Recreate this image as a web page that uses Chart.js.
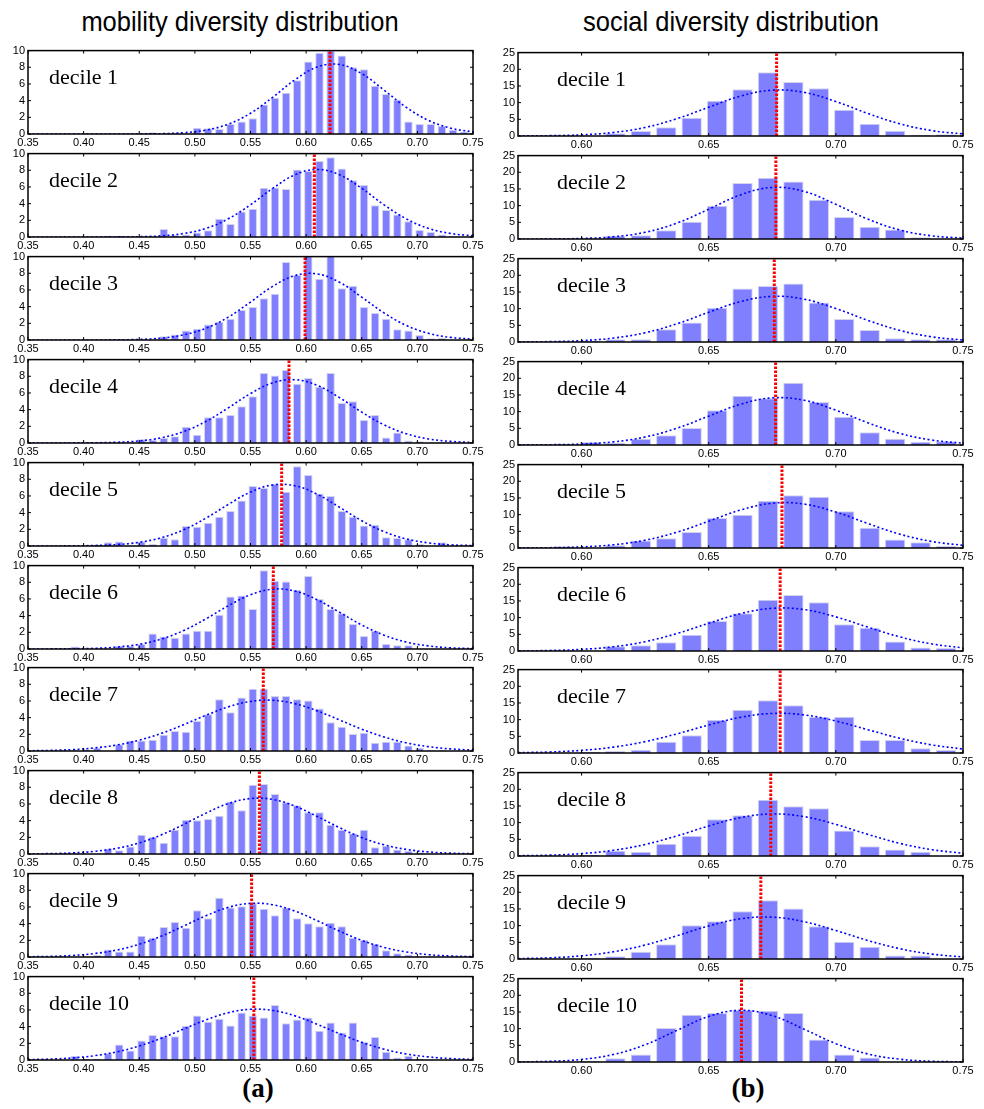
<!DOCTYPE html>
<html>
<head>
<meta charset="utf-8">
<script src="https://cdn.jsdelivr.net/npm/chart.js@4.4.1/dist/chart.umd.min.js"></script>
<style>
  body { margin: 0; background: #fff; width: 984px; height: 1109px; position: relative; overflow: hidden; }
  canvas { position: absolute; }
  .title { position: absolute; top: 8px; width: 490px; text-align: center; font-family: "Liberation Sans", Arial, sans-serif; font-size: 28px; line-height: 28px; color: #000; transform: scaleX(0.91); white-space: nowrap; }
  .sub { position: absolute; top: 1075px; width: 100px; text-align: center; font-family: "Liberation Serif", "Times New Roman", serif; font-weight: bold; font-size: 27px; line-height: 26px; color: #000; }
</style>
</head>
<body>
<div class="title" style="left:-5px">mobility diversity distribution</div>
<div class="title" style="left:486px">social diversity distribution</div>
<div class="sub" style="left:208px">(a)</div>
<div class="sub" style="left:698px">(b)</div>
<script>
// panel labels
const deciles = ["decile 1", "decile 2", "decile 3", "decile 4", "decile 5",
                 "decile 6", "decile 7", "decile 8", "decile 9", "decile 10"];

// tick labels
const mobTicks = [0.35, 0.40, 0.45, 0.50, 0.55, 0.60, 0.65, 0.70, 0.75];
const socTicks = [0.60, 0.65, 0.70, 0.75];

// bin centres
const mobBins = [0.352, 0.362, 0.372, 0.382, 0.392, 0.402, 0.412, 0.422, 0.432, 0.442,
                 0.452, 0.462, 0.472, 0.482, 0.492, 0.502, 0.512, 0.522, 0.532, 0.542,
                 0.552, 0.562, 0.572, 0.582, 0.592, 0.602, 0.612, 0.622, 0.632, 0.642,
                 0.652, 0.662, 0.672, 0.682, 0.692, 0.702, 0.712, 0.722, 0.732, 0.742];
const socBins = [0.5833, 0.5933, 0.6033, 0.6133, 0.6233, 0.6333, 0.6433, 0.6533, 0.6633,
                 0.6733, 0.6833, 0.6933, 0.7033, 0.7133, 0.7233, 0.7333, 0.7433];

// histogram heights, one row per decile
const mobCounts = [
  [0,0,0,0,0,0,0,0,0,0,0,0.2,0,0,0,0.75,0.7,0.6,1.2,1.5,1.9,3.55,4.35,4.95,6.45,8.7,9.75,10,9.4,8.0,7.75,5.8,4.8,4.15,1.5,1.2,1.2,0.95,0.5,0.3],
  [0,0,0,0,0,0,0,0.15,0.15,0,0,0,0.95,0.25,0.3,0.55,0.8,2.2,1.55,3.05,3.4,5.9,5.95,5.75,8.1,7.9,9.1,9.55,8.2,6.8,6.25,3.8,3.25,2.7,1.9,0.85,0.6,0.3,0.1,0],
  [0,0,0,0,0,0,0,0,0,0,0,0,0.45,0.65,1.15,1.35,1.85,2.2,2.55,3.6,3.95,5.0,5.55,9.35,7.8,10.6,7.35,10.5,6.2,6.5,3.95,3.25,2.55,1.3,1.15,0.6,0.2,0.25,0,0],
  [0,0,0,0,0,0,0,0,0,0,0.45,0.4,0.6,0.8,1.95,1.0,3.1,3.1,3.35,4.4,5.6,8.4,8.1,8.75,7.1,7.8,6.75,8.4,4.8,5.0,2.75,3.35,0.65,1.25,0.3,0.2,0.05,0.1,0,0],
  [0,0,0,0,0,0,0.15,0.45,0.55,0,0.55,0.25,1.0,0.8,2.4,2.3,2.8,3.5,4.2,5.45,7.2,6.95,7.45,6.5,9.55,8.5,6.3,6.0,4.2,3.5,2.45,2.55,1.05,0.95,0.8,0.25,0,0.45,0,0],
  [0,0,0,0,0.3,0,0,0,0.4,0.4,0.6,1.85,1.5,1.35,1.85,2.2,2.2,4.1,6.3,6.4,4.8,9.45,8.15,8.1,7.1,8.75,6.0,4.8,4.3,3.0,1.55,2.2,0.6,0.45,0.45,0,0,0,0,0],
  [0,0,0,0.1,0.1,0.2,0.35,0,0.8,1.25,1.25,1.35,1.95,2.4,2.3,3.6,4.4,6.2,4.65,6.4,7.45,7.45,6.6,6.6,6.2,6.05,5.1,3.45,2.9,2.05,2.2,1.0,1.1,1.1,0.65,0.4,0.1,0.1,0,0],
  [0,0,0,0.1,0.1,0,0,0.65,0.45,0.9,2.3,2.05,1.35,2.9,4.1,4.05,4.2,4.6,6.3,5.25,8.3,8.4,7.2,6.2,5.85,5.0,5.0,3.5,2.9,2.5,2.9,0.8,1.0,0.55,0.4,0.2,0,0,0,0],
  [0,0,0,0,0,0,0.25,0.9,0.65,0.65,2.55,2.3,3.6,4.2,3.5,5.6,4.65,7.1,5.95,6.1,6.45,5.8,5.0,5.95,4.65,4.05,3.7,4.1,3.7,2.3,2.05,1.6,0.8,0.45,0.3,0,0,0,0,0],
  [0,0,0,0,0.5,0.15,0.15,0.8,1.85,1.15,2.35,3.0,2.85,2.85,4.1,5.35,4.6,4.95,4.15,5.7,5.35,5.1,6.6,4.4,4.85,5.1,3.5,4.5,3.3,4.5,2.15,2.75,1.0,0.3,0.5,0.15,0.05,0,0,0]
];
const socCounts = [
  [0,0,0.1,0.8,1.5,2.6,5.5,10.6,14.0,19.1,16.2,14.3,7.9,3.7,1.6,0.3,0.5],
  [0,0,0.2,1.0,1.1,2.65,5.2,10.0,16.8,18.35,17.2,11.8,6.6,3.7,2.85,0.5,0],
  [0,0.2,0.4,0.8,0.8,3.8,5.85,10.3,16.05,16.75,17.5,11.85,6.9,3.6,1.15,0.8,0.8],
  [0,0.2,0.9,0.7,1.85,2.95,5.1,10.45,14.75,14.0,18.65,12.9,8.5,3.8,1.85,1.0,1.15],
  [0,0.5,0.1,0.8,2.25,2.95,4.8,9.0,9.95,14.15,15.8,15.35,11.05,6.05,2.55,1.75,0.6],
  [0.1,0.1,0,1.45,1.75,2.65,4.9,9.0,11.35,15.35,16.8,14.65,8.0,6.95,2.85,1.05,0.9],
  [0,0,0.3,0.6,1.0,3.4,5.35,9.95,13.0,15.8,14.35,10.85,10.85,3.9,3.9,1.45,0.9],
  [0,0,0.4,1.55,1.25,3.7,6.1,11.0,12.25,16.85,14.9,14.3,7.65,2.95,1.95,1.25,0],
  [0,0.1,0.3,0.8,2.15,4.4,10.15,11.3,14.35,17.6,15.15,9.85,5.2,3.7,1.05,1.05,0],
  [0,0,0.3,1.15,2.25,10.2,14.2,14.7,15.6,15.4,14.7,6.75,2.25,1.35,0,0,0]
];

// dotted fit curves
const mobFitX = [0.35, 0.37, 0.39, 0.41, 0.43, 0.45, 0.47, 0.49, 0.51, 0.53, 0.55,
                 0.57, 0.59, 0.61, 0.63, 0.65, 0.67, 0.69, 0.71, 0.73, 0.75];
const mobFit = [
  [0,0,0,0,0,0.01,0.04,0.16,0.47,1.18,2.49,4.40,6.50,8.04,8.33,7.23,5.26,3.20,1.63,0.70,0.25],
  [0,0,0,0,0.01,0.04,0.14,0.42,1.03,2.18,3.86,5.83,7.46,8.10,7.46,5.83,3.86,2.18,1.03,0.42,0.14],
  [0,0,0,0,0.02,0.07,0.23,0.62,1.41,2.74,4.55,6.43,7.73,7.92,6.92,5.13,3.25,1.75,0.80,0.31,0.10],
  [0,0,0.01,0.03,0.09,0.25,0.63,1.38,2.59,4.21,5.93,7.21,7.59,6.91,5.44,3.70,2.18,1.11,0.49,0.19,0.06],
  [0,0,0.02,0.06,0.17,0.44,1.00,1.95,3.34,4.98,6.47,7.32,7.22,6.20,4.65,3.03,1.72,0.85,0.37,0.14,0.05],
  [0,0.01,0.03,0.08,0.23,0.56,1.20,2.22,3.62,5.18,6.50,7.17,6.94,5.90,4.40,2.88,1.66,0.83,0.37,0.14,0.05],
  [0.03,0.07,0.17,0.37,0.72,1.30,2.12,3.16,4.28,5.29,5.94,6.08,5.67,4.81,3.72,2.62,1.68,0.98,0.52,0.25,0.11],
  [0.02,0.05,0.13,0.32,0.69,1.33,2.30,3.55,4.90,6.04,6.65,6.54,5.74,4.50,3.16,1.97,1.10,0.55,0.25,0.10,0.03],
  [0.03,0.07,0.18,0.42,0.84,1.53,2.51,3.72,4.95,5.95,6.43,6.26,5.50,4.35,3.10,1.99,1.15,0.60,0.28,0.12,0.05],
  [0.05,0.11,0.25,0.52,0.98,1.68,2.62,3.72,4.81,5.67,6.08,5.94,5.29,4.28,3.16,2.12,1.30,0.72,0.37,0.17,0.07]
];
const socFitX = [0.575, 0.5875, 0.60, 0.6125, 0.625, 0.6375, 0.65, 0.6625,
                 0.675, 0.6875, 0.70, 0.7125, 0.725, 0.7375, 0.75];
const socFit = [
  [0.02,0.10,0.36,1.05,2.56,5.18,8.63,11.95,13.73,13.07,10.34,6.77,3.69,1.65,0.62],
  [0.01,0.04,0.17,0.67,2.01,4.76,8.93,13.22,15.45,14.26,10.39,5.98,2.72,0.97,0.27],
  [0.03,0.12,0.41,1.18,2.78,5.46,8.91,12.11,13.67,12.84,10.03,6.51,3.51,1.58,0.59],
  [0.02,0.08,0.30,0.94,2.40,5.03,8.65,12.20,14.12,13.41,10.45,6.68,3.51,1.51,0.53],
  [0.02,0.09,0.33,0.96,2.34,4.75,8.04,11.38,13.41,13.17,10.77,7.36,4.18,1.98,0.78],
  [0.04,0.16,0.49,1.27,2.80,5.24,8.31,11.19,12.79,12.42,10.24,7.17,4.26,2.15,0.92],
  [0.11,0.31,0.79,1.76,3.41,5.73,8.39,10.69,11.85,11.42,9.59,7.00,4.45,2.46,1.18],
  [0.08,0.26,0.71,1.70,3.46,6.02,9.00,11.51,12.59,11.80,9.46,6.50,3.82,1.92,0.83],
  [0.12,0.36,0.95,2.17,4.19,6.96,9.91,12.05,12.54,11.18,8.53,5.57,3.11,1.49,0.61],
  [0.04,0.21,0.77,2.25,5.19,9.48,13.64,15.50,13.90,9.84,5.50,2.43,0.85,0.23,0.05]
];

// red dotted mean markers
const mobMean = [0.6215, 0.6074, 0.599, 0.5846, 0.578, 0.5705, 0.5615, 0.558, 0.551, 0.553];
const socMean = [0.6767, 0.6764, 0.6758, 0.6763, 0.6788, 0.6781, 0.6781, 0.6744, 0.6705, 0.6629];

const tickFont = { family: "'Liberation Sans Narrow', 'Liberation Sans', Arial, sans-serif", size: 11 };

// frame, inward tick marks and the decile label
function framePlugin(label, labelDx) {
    return {
        id: "frame",
        afterDraw(chart) {
            const ctx = chart.ctx;
            const a = chart.chartArea;
            ctx.save();
            ctx.strokeStyle = "#000";
            ctx.lineWidth = 1.5;
            ctx.strokeRect(a.left, a.top, a.right - a.left, a.bottom - a.top);
            ctx.lineWidth = 1;
            ctx.beginPath();
            chart.scales.x.ticks.forEach(t => {
                const px = chart.scales.x.getPixelForValue(t.value);
                ctx.moveTo(px, a.bottom); ctx.lineTo(px, a.bottom - 3);
                ctx.moveTo(px, a.top); ctx.lineTo(px, a.top + 3);
            });
            chart.scales.y.ticks.forEach(t => {
                const py = chart.scales.y.getPixelForValue(t.value);
                ctx.moveTo(a.left, py); ctx.lineTo(a.left + 3, py);
                ctx.moveTo(a.right, py); ctx.lineTo(a.right - 3, py);
            });
            ctx.stroke();
            ctx.fillStyle = "#000";
            ctx.font = "22px 'Liberation Serif', 'Times New Roman', serif";
            ctx.textBaseline = "alphabetic";
            ctx.fillText(label, a.left + labelDx, a.top + 33);
            ctx.restore();
        }
    };
}

function drawPanel(p) {
    const canvas = document.createElement("canvas");
    canvas.width = p.width;
    canvas.height = 109;
    canvas.style.left = p.left + "px";
    canvas.style.top = (p.top - 8) + "px";
    document.body.appendChild(canvas);

    new Chart(canvas, {
        type: "bar",
        data: {
            datasets: [
                {
                    type: "line",
                    data: [{ x: p.mean, y: 0 }, { x: p.mean, y: p.yMax }],
                    borderColor: "#ff0000",
                    borderWidth: 3,
                    borderDash: [2.5, 1.5],
                    pointRadius: 0,
                    order: 1
                },
                {
                    type: "line",
                    data: p.fitX.map((x, k) => ({ x: x, y: p.fit[k] })),
                    borderColor: "#0000ff",
                    borderWidth: 1.6,
                    borderDash: [2, 2.5],
                    pointRadius: 0,
                    tension: 0.4,
                    order: 2
                },
                {
                    type: "bar",
                    data: p.bins.map((x, k) => ({ x: x, y: p.counts[k] })),
                    backgroundColor: "#8080ff",
                    borderColor: "#d4d4ec",
                    borderWidth: 1,
                    barPercentage: p.barPct,
                    categoryPercentage: 1,
                    order: 3
                }
            ]
        },
        options: {
            responsive: false,
            animation: false,
            events: [],
            layout: { padding: { top: 8, left: 0, bottom: 0, right: p.width - 28 - 445 } },
            plugins: { legend: { display: false }, tooltip: { enabled: false } },
            scales: {
                x: {
                    type: "linear",
                    min: p.xMin,
                    max: p.xMax,
                    offset: false,
                    grid: { display: false, drawTicks: false },
                    border: { display: false },
                    ticks: { color: "#000", font: tickFont, padding: 2, maxRotation: 0, autoSkip: false,
                             callback: v => v.toFixed(2) },
                    afterBuildTicks: s => { s.ticks = p.ticks.map(v => ({ value: v })); },
                    afterFit: s => { s.height = 16; }
                },
                y: {
                    min: 0,
                    max: p.yMax,
                    grid: { display: false, drawTicks: false },
                    border: { display: false },
                    ticks: { stepSize: p.yStep, color: "#000", font: tickFont, padding: 3 },
                    afterFit: s => { s.width = 28; }
                }
            }
        },
        plugins: [framePlugin(p.label, p.labelDx)]
    });
}

for (let i = 0; i < 10; i++) {
    const top = 49 + Math.round(102.9 * i);
    drawPanel({
        left: 0, top: top, width: 490,
        bins: mobBins, counts: mobCounts[i], fitX: mobFitX, fit: mobFit[i], mean: mobMean[i],
        xMin: 0.35, xMax: 0.75, ticks: mobTicks, yMax: 10, yStep: 2,
        barPct: 0.76, label: deciles[i], labelDx: 21
    });
    drawPanel({
        left: 490, top: top + 2, width: 494,
        bins: socBins, counts: socCounts[i], fitX: socFitX, fit: socFit[i], mean: socMean[i],
        xMin: 0.575, xMax: 0.75, ticks: socTicks, yMax: 25, yStep: 5,
        barPct: 0.8, label: deciles[i], labelDx: 39
    });
}
</script>
</body>
</html>
